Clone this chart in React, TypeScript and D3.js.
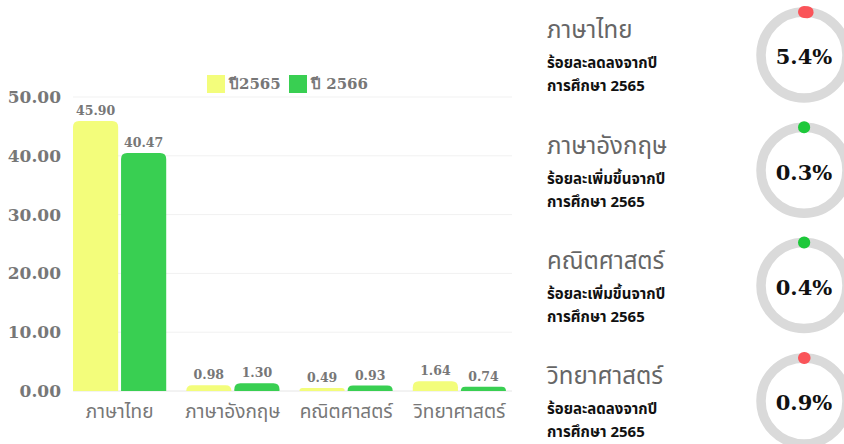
import React, { useEffect, useRef } from "react";
import * as d3 from "d3";

const categories = ["ภาษาไทย", "ภาษาอังกฤษ", "คณิตศาสตร์", "วิทยาศาสตร์"];
const seriesNames = ["ปี2565", "ปี 2566"];
const values2565 = [45.9, 0.98, 0.49, 1.64];
const values2566 = [40.47, 1.3, 0.93, 0.74];
const yTicks = [0, 10, 20, 30, 40, 50];

const changeWords = ["ลดลง", "เพิ่มขึ้น", "เพิ่มขึ้น", "ลดลง"];
const changePercent = [5.4, 0.3, 0.4, 0.9];

const seriesColors = ["#f3fd7b", "#39cf52"];
const upColor = "#1dc83a";
const downColor = "#fa5459";

const thaiFont = "'Noto Sans Thai', 'Noto Serif Thai', 'DejaVu Serif', serif";
const numFont = "'DejaVu Serif', 'Liberation Serif', serif";

const W = 844;
const H = 444;
const gaugeMax = 400; // ring is drawn on a wide scale so small values show as a dot

const App = () => {
  const ref = useRef<SVGSVGElement>(null);

  useEffect(() => {
    const svg = d3.select(ref.current);
    svg.selectAll("*").remove();

    const left = 73;
    const right = 512;
    const yScale = d3.scaleLinear().domain([0, 50]).range([391, 97]);
    const xScale = d3
      .scaleBand<string>()
      .domain(categories)
      .range([left, 506])
      .paddingInner(0.177)
      .paddingOuter(0);
    const inner = d3
      .scaleBand<string>()
      .domain(seriesNames)
      .range([0, xScale.bandwidth()])
      .paddingInner(0.06);

    // grid lines
    svg
      .append("g")
      .selectAll("line")
      .data(yTicks)
      .enter()
      .append("line")
      .attr("x1", left)
      .attr("x2", right)
      .attr("y1", (d) => yScale(d))
      .attr("y2", (d) => yScale(d))
      .attr("stroke", (d) => (d === 0 ? "#e6e6e6" : "#f1f1f1"))
      .attr("stroke-width", 1);

    // y labels
    svg
      .append("g")
      .selectAll("text")
      .data(yTicks)
      .enter()
      .append("text")
      .attr("x", 61)
      .attr("y", (d) => yScale(d))
      .attr("dy", "0.35em")
      .attr("text-anchor", "end")
      .attr("font-family", numFont)
      .attr("font-weight", "bold")
      .attr("font-size", 17)
      .attr("fill", "#777")
      .text((d) => d.toFixed(2));

    const rows = categories.flatMap((c, i) => [
      { cat: c, series: seriesNames[0], value: values2565[i], color: seriesColors[0] },
      { cat: c, series: seriesNames[1], value: values2566[i], color: seriesColors[1] },
    ]);

    const r = 6;
    const barPath = (x: number, y0: number, w: number, y1: number) => {
      const h = y0 - y1;
      const rr = Math.min(r, h, w / 2);
      return `M${x},${y0}V${y1 + rr}Q${x},${y1} ${x + rr},${y1}H${x + w - rr}Q${x + w},${y1} ${x + w},${y1 + rr}V${y0}Z`;
    };

    const bars = svg.append("g");
    bars
      .selectAll("path")
      .data(rows)
      .enter()
      .append("path")
      .attr("d", (d) =>
        barPath(
          (xScale(d.cat) as number) + (inner(d.series) as number),
          yScale(0),
          inner.bandwidth(),
          yScale(d.value)
        )
      )
      .attr("fill", (d) => d.color);

    bars
      .selectAll("text")
      .data(rows)
      .enter()
      .append("text")
      .attr("x", (d) => (xScale(d.cat) as number) + (inner(d.series) as number) + inner.bandwidth() / 2)
      .attr("y", (d) => yScale(d.value) - 6)
      .attr("text-anchor", "middle")
      .attr("font-family", numFont)
      .attr("font-weight", "bold")
      .attr("font-size", 12.5)
      .attr("fill", "#777")
      .text((d) => d.value.toFixed(2));

    // x labels
    svg
      .append("g")
      .selectAll("text")
      .data(categories)
      .enter()
      .append("text")
      .attr("x", (d) => (xScale(d) as number) + xScale.bandwidth() / 2)
      .attr("y", 411)
      .attr("dy", "0.35em")
      .attr("text-anchor", "middle")
      .attr("font-family", thaiFont)
      .attr("font-size", 19)
      .attr("fill", "#777")
      .text((d) => d);

    // legend
    const legendX = [207, 289];
    const legend = svg
      .append("g")
      .selectAll("g")
      .data(seriesNames)
      .enter()
      .append("g")
      .attr("transform", (d, i) => `translate(${legendX[i]},75)`);
    legend
      .append("rect")
      .attr("width", 18)
      .attr("height", 18)
      .attr("fill", (d, i) => seriesColors[i]);
    legend
      .append("text")
      .attr("x", 22)
      .attr("y", 9)
      .attr("dy", "0.35em")
      .attr("font-family", numFont)
      .attr("font-weight", "bold")
      .attr("font-size", 15)
      .attr("fill", "#777")
      .text((d) => d);

    // right side gauges
    const blockY = d3.scaleLinear().domain([0, 1]).range([0, 115.3]);
    const ringR = 43;
    const angle = d3.scaleLinear().domain([0, gaugeMax]).range([0, 2 * Math.PI]);
    const ringArc = (pct: number) => {
      const p = d3.path();
      const a0 = -Math.PI / 2;
      const a1 = a0 + angle(pct);
      p.moveTo(ringR * Math.cos(a0), ringR * Math.sin(a0));
      p.arc(0, 0, ringR, a0, a1);
      return p.toString();
    };

    const blocks = svg
      .append("g")
      .selectAll("g")
      .data(categories)
      .enter()
      .append("g")
      .attr("transform", (d, i) => `translate(0,${blockY(i)})`);

    blocks
      .append("text")
      .attr("x", 547)
      .attr("y", 30)
      .attr("dy", "0.35em")
      .attr("font-family", thaiFont)
      .attr("font-size", 24)
      .attr("fill", "#666")
      .text((d) => d);

    blocks
      .append("text")
      .attr("x", 547)
      .attr("y", 63)
      .attr("dy", "0.35em")
      .attr("font-family", thaiFont)
      .attr("font-weight", "bold")
      .attr("font-size", 15)
      .attr("fill", "#111")
      .text((d, i) => `ร้อยละ${changeWords[i]}จากปี`);

    blocks
      .append("text")
      .attr("x", 547)
      .attr("y", 86)
      .attr("dy", "0.35em")
      .attr("font-family", thaiFont)
      .attr("font-weight", "bold")
      .attr("font-size", 15)
      .attr("fill", "#111")
      .text("การศึกษา 2565");

    const gauge = blocks.append("g").attr("transform", "translate(804,55)");
    gauge
      .append("circle")
      .attr("r", ringR)
      .attr("fill", "none")
      .attr("stroke", "#dadada")
      .attr("stroke-width", 9.5);
    gauge
      .append("path")
      .attr("d", (d, i) => ringArc(changePercent[i]))
      .attr("fill", "none")
      .attr("stroke", (d, i) => (changeWords[i] === "ลดลง" ? downColor : upColor))
      .attr("stroke-width", 12)
      .attr("stroke-linecap", "round");
    gauge
      .append("text")
      .attr("x", 0)
      .attr("y", 2)
      .attr("dy", "0.35em")
      .attr("text-anchor", "middle")
      .attr("font-family", numFont)
      .attr("font-weight", "bold")
      .attr("font-size", 21)
      .attr("fill", "#111")
      .text((d, i) => `${changePercent[i]}%`);
  }, []);

  return (
    <svg
      ref={ref}
      width={W}
      height={H}
      style={{ position: "absolute", left: 0, top: 0, background: "#fff" }}
    ></svg>
  );
};

export default App;
